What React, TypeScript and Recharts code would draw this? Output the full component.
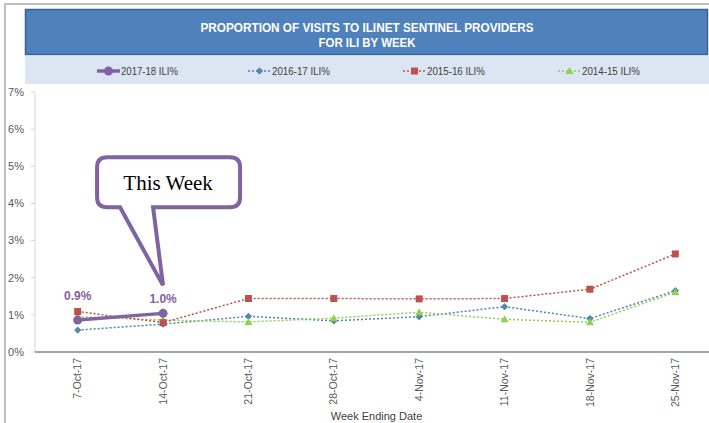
import React from 'react';
import { LineChart, Line, XAxis, YAxis, LabelList } from 'recharts';

const weeks = ['7-Oct-17', '14-Oct-17', '21-Oct-17', '28-Oct-17', '4-Nov-17', '11-Nov-17', '18-Nov-17', '25-Nov-17'];
const s2017 = [0.86, 1.04, null, null, null, null, null, null];
const s2016 = [0.59, 0.75, 0.96, 0.84, 0.95, 1.22, 0.90, 1.65];
const s2015 = [1.09, 0.79, 1.44, 1.44, 1.43, 1.44, 1.69, 2.64];
const s2014 = [0.95, 0.86, 0.81, 0.91, 1.07, 0.88, 0.80, 1.61];
const yTicks = [0, 1, 2, 3, 4, 5, 6, 7];
const dataLabels = ['0.9%', '1.0%'];
const titleLines = ['PROPORTION OF VISITS TO ILINET SENTINEL PROVIDERS', 'FOR ILI BY WEEK'];
const legendNames = ['2017-18 ILI%', '2016-17 ILI%', '2015-16 ILI%', '2014-15 ILI%'];
const calloutText = 'This Week';
const xTitle = 'Week Ending Date';

const data = weeks.map((w, i) => ({ week: w, a: s2017[i], b: s2016[i], c: s2015[i], d: s2014[i] }));

const PURPLE = '#8064A2';
const BLUE = '#4F81BD';
const RED = '#C0504D';
const GREEN = '#92D050';
const FONT = '"Liberation Sans", Arial, sans-serif';

const Diamond = (cx: number, cy: number, key?: any) => (
  <path key={key} d={`M${cx},${cy - 3.2} L${cx + 3.2},${cy} L${cx},${cy + 3.2} L${cx - 3.2},${cy} Z`} fill="#4E8C9E" stroke={BLUE} strokeWidth={0.8} />
);
const Square = (cx: number, cy: number, key?: any) => (
  <rect key={key} x={cx - 3.5} y={cy - 3.5} width={7} height={7} fill={RED} />
);
const Tri = (cx: number, cy: number, key?: any) => (
  <path key={key} d={`M${cx},${cy - 4} L${cx + 4},${cy + 3} L${cx - 4},${cy + 3} Z`} fill={GREEN} />
);
const Circ = (cx: number, cy: number, key?: any) => (
  <circle key={key} cx={cx} cy={cy} r={4.5} fill={PURPLE} />
);

const mkDot = (fn: any) => (p: any) => {
  if (p.value == null || p.cy == null) return <g key={p.index} />;
  return fn(p.cx, p.cy, p.index);
};

const XTick = (p: any) => {
  const { x, y, payload } = p;
  return (
    <text x={x} y={y} transform={`rotate(-90 ${x} ${y})`} textAnchor="end" dy="0.35em" fontSize={10.5} fill="#595959" fontFamily={FONT}>
      {payload.value}
    </text>
  );
};

const labelDy = [-24, -15];

const PurpleLabel = (p: any) => {
  const { x, y, index, value } = p;
  if (value == null || x == null) return null;
  const text = dataLabels[index];
  const lbl = (
    <text x={x} y={y + labelDy[index]} textAnchor="middle" dy="0.35em" fontSize={12} fontWeight="bold" fill={PURPLE} fontFamily={FONT}>
      {text}
    </text>
  );
  if (index !== 1) return lbl;
  const L = x - 66, R = x + 77, T = y - 156, B = y - 106, r = 10;
  const bl = x - 43, br = x - 10, tipY = y - 28;
  const d = `M${L + r},${T} H${R - r} Q${R},${T} ${R},${T + r} V${B - r} Q${R},${B} ${R - r},${B} H${br} L${x},${tipY} L${bl},${B} H${L + r} Q${L},${B} ${L},${B - r} V${T + r} Q${L},${T} ${L + r},${T} Z`;
  return (
    <g>
      {lbl}
      <path d={d} fill="#ffffff" stroke={PURPLE} strokeWidth={4} strokeLinejoin="miter" />
      <text x={x + 5} y={y - 123} textAnchor="middle" fontSize={21} fill="#000" fontFamily='"Liberation Serif", "Times New Roman", serif'>
        {calloutText}
      </text>
    </g>
  );
};

const legendItems = [
  { x: 97, name: legendNames[0], color: PURPLE, dash: undefined, w: 3.5, marker: Circ, tl: 57 },
  { x: 248, name: legendNames[1], color: BLUE, dash: '2 2', w: 1.5, marker: Diamond, tl: 58 },
  { x: 403, name: legendNames[2], color: RED, dash: '2 2', w: 1.5, marker: Square, tl: 58 },
  { x: 558, name: legendNames[3], color: GREEN, dash: '2 2', w: 1.5, marker: Tri, tl: 58 },
];

const Header = () => (
  <svg width={709} height={90} style={{ position: 'absolute', left: 0, top: 0 }}>
    <rect x={25.5} y={9.5} width={682} height={45} fill="#4F81BD" stroke="#3B6496" strokeWidth={1.5} />
    <rect x={25} y={56} width={684} height={28} fill="#DCE6F2" />
    <text x={367} y={32} textAnchor="middle" fontSize={13} fontWeight="bold" fill="#fff" fontFamily={FONT} textLength={333} lengthAdjust="spacingAndGlyphs">{titleLines[0]}</text>
    <text x={367} y={47} textAnchor="middle" fontSize={13} fontWeight="bold" fill="#fff" fontFamily={FONT} textLength={97} lengthAdjust="spacingAndGlyphs">{titleLines[1]}</text>
    {legendItems.map((it, i) => (
      <g key={i}>
        <line x1={it.x} y1={71} x2={it.x + 23} y2={71} stroke={it.color} strokeWidth={it.w} strokeDasharray={it.dash} />
        {it.marker(it.x + 11.5, 71)}
        <text x={it.x + 24} y={74.5} fontSize={10} fill="#404040" fontFamily={FONT} textLength={it.tl} lengthAdjust="spacingAndGlyphs">{it.name}</text>
      </g>
    ))}
  </svg>
);

export default function App() {
  return (
    <div style={{ position: 'fixed', left: 0, top: 0, width: 709, height: 423, overflow: 'hidden', background: '#fff' }}>
      <div style={{ position: 'absolute', left: 4, top: 3, width: 720, height: 430, borderTop: '2px solid #BFBFBF', borderLeft: '2px solid #BFBFBF' }} />
      <div style={{ position: 'absolute', left: 0, top: 0 }}>
        <LineChart width={718} height={423} data={data} margin={{ top: 92, right: 0, bottom: 0, left: 0 }}>
          <YAxis
            width={35}
            domain={[0, 7]}
            ticks={yTicks}
            tickFormatter={(v: number) => `${v}%`}
            axisLine={{ stroke: '#D9D9D9' }}
            tickLine={{ stroke: '#D9D9D9' }}
            tickSize={4}
            tickMargin={7}
            tick={{ fontSize: 11, fill: '#595959', fontFamily: FONT }}
            interval={0}
          />
          <XAxis
            dataKey="week"
            scale="band"
            height={71}
            interval={0}
            axisLine={{ stroke: '#A6A6A6', strokeWidth: 2 }}
            tickLine={false}
            tickSize={6}
            tickMargin={0}
            tick={<XTick />}
            label={{ value: xTitle, position: 'insideBottom', offset: 3, fontSize: 11, fill: '#404040', fontFamily: FONT }}
          />
          <Line dataKey="b" stroke={BLUE} strokeWidth={1.5} strokeDasharray="2 2" dot={mkDot(Diamond)} activeDot={false} isAnimationActive={false} />
          <Line dataKey="d" stroke={GREEN} strokeWidth={1.5} strokeDasharray="2 2" dot={mkDot(Tri)} activeDot={false} isAnimationActive={false} />
          <Line dataKey="c" stroke={RED} strokeWidth={1.5} strokeDasharray="2 2" dot={mkDot(Square)} activeDot={false} isAnimationActive={false} />
          <Line dataKey="a" stroke={PURPLE} strokeWidth={3.5} dot={mkDot(Circ)} activeDot={false} isAnimationActive={false}>
            <LabelList dataKey="a" content={<PurpleLabel />} />
          </Line>
        </LineChart>
      </div>
      <Header />
    </div>
  );
}
